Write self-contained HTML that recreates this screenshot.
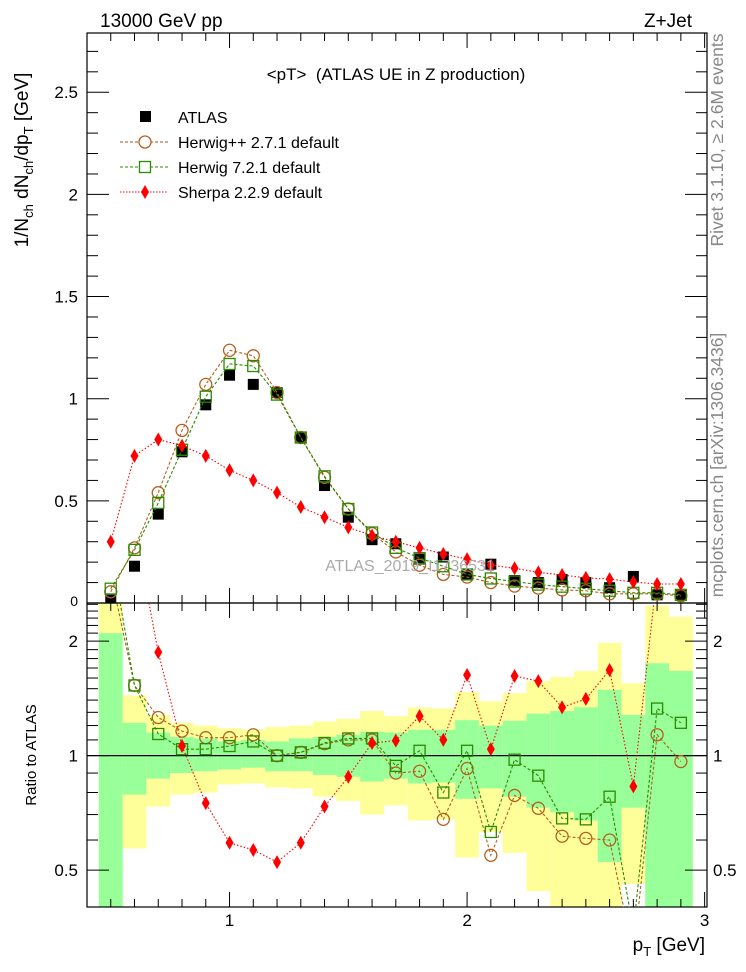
<!DOCTYPE html>
<html><head><meta charset="utf-8">
<style>
html,body{margin:0;padding:0;background:#fff;}
svg{display:block;font-family:"Liberation Sans",Arial,sans-serif;}
</style></head>
<body>
<svg id="chart" width="746" height="972" viewBox="0 0 746 972">
<rect x="0" y="0" width="746" height="972" fill="#fff"/>
<g id="bands"></g>
<g id="axes"></g>
<g id="series"></g>
<text x="100" y="27" font-size="19">13000 GeV pp</text>
<text x="692" y="27" font-size="19" text-anchor="end">Z+Jet</text>
<text x="396" y="80" font-size="17" text-anchor="middle" xml:space="preserve">&lt;pT&gt;  (ATLAS UE in Z production)</text>
<text x="410" y="571" font-size="16" fill="#aaa" text-anchor="middle">ATLAS_2019_I1736531</text>
<g>
  <g>
    <rect x="140" y="111" width="11" height="11" fill="#000"/>
    <text x="178" y="123" font-size="16">ATLAS</text>
  </g>
  <g>
    <line x1="120" y1="142" x2="168" y2="142" stroke="#a0522d" stroke-dasharray="3,2"/>
    <circle cx="145" cy="142" r="6" fill="#fff" stroke="#b4601f" stroke-width="1.3"/>
    <text x="178" y="148" font-size="16">Herwig++ 2.7.1 default</text>
  </g>
  <g>
    <line x1="120" y1="167" x2="168" y2="167" stroke="#2a8a00" stroke-dasharray="3,2"/>
    <rect x="139.5" y="161.5" width="11" height="11" fill="#fff" stroke="#2a8a00" stroke-width="1.3"/>
    <text x="178" y="173" font-size="16">Herwig 7.2.1 default</text>
  </g>
  <g>
    <line x1="120" y1="192" x2="168" y2="192" stroke="#f00" stroke-dasharray="1.5,1.5"/>
    <path d="M145 185 L149 192 L145 199 L141 192 Z" fill="#f00"/>
    <text x="178" y="198" font-size="16">Sherpa 2.2.9 default</text>
  </g>
</g>
<text transform="translate(28,160) rotate(-90)" font-size="19" text-anchor="middle">1/N<tspan font-size="13" dy="5">ch</tspan><tspan dy="-5"> dN</tspan><tspan font-size="13" dy="5">ch</tspan><tspan dy="-5">/dp</tspan><tspan font-size="13" dy="5">T</tspan><tspan dy="-5"> [GeV]</tspan></text>
<text transform="translate(36,755) rotate(-90)" font-size="15" text-anchor="middle">Ratio to ATLAS</text>
<text x="705" y="951" font-size="19" text-anchor="end">p<tspan font-size="13" dy="5">T</tspan><tspan dy="-5"> [GeV]</tspan></text>
<text transform="translate(723,140) rotate(-90)" font-size="17.5" fill="#888" text-anchor="middle">Rivet 3.1.10, ≥ 2.6M events</text>
<text transform="translate(723,465) rotate(-90)" font-size="17.5" fill="#888" text-anchor="middle">mcplots.cern.ch [arXiv:1306.3436]</text>
</svg>
<script>
const binCenters=[0.5,0.6,0.7,0.8,0.9,1.0,1.1,1.2,1.3,1.4,1.5,1.6,1.7,1.8,1.9,2.0,2.1,2.2,2.3,2.4,2.5,2.6,2.7,2.8,2.9];
const atlasValues=[0.02,0.18,0.435,0.74,0.97,1.115,1.07,1.03,0.81,0.575,0.42,0.31,0.29,0.215,0.225,0.137,0.19,0.11,0.10,0.115,0.10,0.075,0.13,0.04,0.04];
const herwigppValues=[0.055,0.27,0.54,0.845,1.07,1.237,1.21,1.03,0.81,0.615,0.46,0.34,0.25,0.185,0.14,0.127,0.10,0.083,0.073,0.064,0.06,0.045,0.045,0.045,0.035];
const herwig7Values=[0.07,0.26,0.49,0.75,1.01,1.17,1.16,1.02,0.81,0.62,0.46,0.345,0.27,0.22,0.18,0.14,0.12,0.105,0.09,0.08,0.07,0.06,0.05,0.05,0.04];
const sherpaValues=[0.30,0.72,0.80,0.77,0.72,0.65,0.60,0.54,0.47,0.42,0.37,0.33,0.30,0.27,0.24,0.215,0.185,0.17,0.15,0.137,0.123,0.117,0.103,0.093,0.093];
const herwigppRatio=[3.0,1.53,1.26,1.16,1.115,1.115,1.135,1.0,1.02,1.075,1.10,1.10,0.90,0.91,0.68,0.925,0.547,0.786,0.727,0.614,0.606,0.60,0.30,1.135,0.965];
const herwig7Ratio=[3.5,1.53,1.14,1.04,1.04,1.06,1.09,1.0,1.02,1.08,1.11,1.11,0.94,1.03,0.80,1.03,0.63,0.976,0.886,0.684,0.68,0.78,0.35,1.33,1.22];
const sherpaRatio=[15,4.0,1.87,1.06,0.75,0.59,0.565,0.525,0.59,0.735,0.88,1.08,1.095,1.27,1.10,1.63,1.04,1.62,1.57,1.34,1.41,1.68,0.83,3.0,3.0];
const yellowHigh=[3.0,1.44,1.28,1.22,1.2,1.18,1.17,1.19,1.2,1.23,1.25,1.31,1.27,1.34,1.33,1.47,1.39,1.46,1.57,1.61,1.67,1.98,1.55,2.48,2.32];
const greenHigh=[2.1,1.22,1.15,1.12,1.11,1.09,1.10,1.09,1.11,1.12,1.135,1.155,1.15,1.17,1.17,1.24,1.2,1.235,1.29,1.31,1.34,1.49,1.28,1.75,1.67];
const greenLow=[0.3,0.79,0.87,0.90,0.91,0.92,0.93,0.91,0.91,0.89,0.88,0.855,0.87,0.845,0.85,0.77,0.82,0.78,0.73,0.71,0.675,0.525,0.73,0.3,0.3];
const yellowLow=[0.3,0.57,0.735,0.79,0.80,0.84,0.845,0.825,0.82,0.78,0.76,0.70,0.74,0.675,0.68,0.54,0.63,0.555,0.44,0.3,0.3,0.3,0.46,0.3,0.3];
const mainYTicks=[0,0.5,1,1.5,2,2.5];
const mainYLabels=["0","0.5","1","1.5","2","2.5"];
const ratioYTicks=[0.5,1,2];
const ratioYLabels=["0.5","1","2"];
const xTicks=[1,2,3];
const xLabels=["1","2","3"];

const NS="http://www.w3.org/2000/svg";
const L=87,R=707,MT=33,MB=603,RT=603,RB=907;
const XMIN=0.4,XMAX=3.01;
const YMAX=2.79;
const RMIN=0.4,RMAX=2.52;
function X(v){return L+(v-XMIN)/(XMAX-XMIN)*(R-L);}
function Y(v){return MB-(v/YMAX)*(MB-MT);}
function RY(v){return RB-(Math.log(v)-Math.log(RMIN))/(Math.log(RMAX)-Math.log(RMIN))*(RB-RT);}
function mk(tag,attrs,parent){const e=document.createElementNS(NS,tag);for(const k in attrs)e.setAttribute(k,attrs[k]);parent.appendChild(e);return e;}
const gB=document.getElementById('bands'),gA=document.getElementById('axes'),gS=document.getElementById('series');

const clampR=v=>Math.min(Math.max(v,RMIN),RMAX);
binCenters.forEach((c,i)=>{
  const x0=X(c-0.05),x1=X(c+0.05);
  const y=mk('rect',{x:x0,y:RY(clampR(yellowHigh[i])),width:x1-x0,height:RY(clampR(yellowLow[i]))-RY(clampR(yellowHigh[i])),fill:'#ffff99'},gB);
  
  
  const g=mk('rect',{x:x0,y:RY(clampR(greenHigh[i])),width:x1-x0,height:RY(clampR(greenLow[i]))-RY(clampR(greenHigh[i])),fill:'#99ff99'},gB);
  
  
});

[[MT,MB],[RT,RB]].forEach(([t,b],pi)=>{
  const f=mk('rect',{x:L,y:t,width:R-L,height:b-t,fill:'none',stroke:'#000','stroke-width':1.2},gA);
  
  
  for(let k=4;k<=30;k++){
    const v=k/10;const major=(k%10===0);const len=major?15:8;
    mk('line',{x1:X(v),x2:X(v),y1:b,y2:b-len,stroke:'#000'},gA);
    mk('line',{x1:X(v),x2:X(v),y1:t,y2:t+len,stroke:'#000'},gA);
  }
});
for(let k=0;k<=27;k++){
  const v=k/10;const major=(k%5===0);const len=major?22:11;
  mk('line',{x1:L,x2:L+len,y1:Y(v),y2:Y(v),stroke:'#000'},gA);
  mk('line',{x1:R,x2:R-len,y1:Y(v),y2:Y(v),stroke:'#000'},gA);
}
mainYTicks.forEach((v,i)=>{
  const t=mk('text',{x:78,y:Y(v)+(v===0?3:6),'font-size':v===0?14:17,'text-anchor':'end'},gA);
  t.textContent=mainYLabels[i];
  
  
});
const rminor=[0.4,0.5,0.6,0.7,0.8,0.9,1,1.1,1.2,1.3,1.4,1.5,1.6,1.7,1.8,1.9,2,2.1,2.2,2.3,2.4,2.5];
rminor.forEach(v=>{
  const major=ratioYTicks.includes(v);const len=major?22:11;
  mk('line',{x1:L,x2:L+len,y1:RY(v),y2:RY(v),stroke:'#000'},gA);
  mk('line',{x1:R,x2:R-len,y1:RY(v),y2:RY(v),stroke:'#000'},gA);
});
ratioYTicks.forEach((v,i)=>{
  const t=mk('text',{x:78,y:RY(v)+6,'font-size':17,'text-anchor':'end'},gA);
  t.textContent=ratioYLabels[i];
  
  
  const t2=mk('text',{x:713,y:RY(v)+6,'font-size':17,'text-anchor':'start'},gA);
  t2.textContent=ratioYLabels[i];
  
  
});
xTicks.forEach((v,i)=>{
  const t=mk('text',{x:X(v),y:926,'font-size':17,'text-anchor':'middle'},gA);
  t.textContent=xLabels[i];
  
  
});
const one=mk('line',{x1:L,x2:R,y1:RY(1),y2:RY(1),stroke:'#000','stroke-width':1.2},gA);



const defs=mk('defs',{},gS);
const c1=mk('clipPath',{id:'clipMain'},defs);mk('rect',{x:L,y:MT,width:R-L,height:MB-MT},c1);
const c2=mk('clipPath',{id:'clipRatio'},defs);mk('rect',{x:L,y:RT,width:R-L,height:RB-RT},c2);

function drawSeries(vals,yf,clip,color,dash,marker,name){
  const g=mk('g',{'clip-path':'url(#'+clip+')'},gS);
  
  
  if(dash!==null){
    const pts=binCenters.map((c,i)=>X(c)+','+yf(vals[i])).join(' ');
    mk('polyline',{points:pts,fill:'none',stroke:color,'stroke-dasharray':dash,'stroke-width':1.1},g);
  }
  binCenters.forEach((c,i)=>{
    const x=X(c),y=yf(vals[i]);let m;
    if(marker==='sq') m=mk('rect',{x:x-5.5,y:y-5.5,width:11,height:11,fill:'#000'},g);
    else if(marker==='osq') m=mk('rect',{x:x-5.5,y:y-5.5,width:11,height:11,fill:'none',stroke:color,'stroke-width':1.3},g);
    else if(marker==='oc') m=mk('circle',{cx:x,cy:y,r:6,fill:'none',stroke:color,'stroke-width':1.3},g);
    else m=mk('path',{d:`M${x} ${y-7}L${x+4} ${y}L${x} ${y+7}L${x-4} ${y}Z`,fill:color},g);
    
    
  });
}
drawSeries(atlasValues,Y,'clipMain','#000',null,'sq','atlas-data');
drawSeries(herwigppValues,Y,'clipMain','#b4601f','3,2','oc','herwigpp-main');
drawSeries(herwig7Values,Y,'clipMain','#2a8a00','3,2','osq','herwig7-main');
drawSeries(sherpaValues,Y,'clipMain','#f00','1.5,2','dia','sherpa-main');
drawSeries(herwigppRatio,RY,'clipRatio','#b4601f','3,2','oc','herwigpp-ratio');
drawSeries(herwig7Ratio,RY,'clipRatio','#2a8a00','3,2','osq','herwig7-ratio');
drawSeries(sherpaRatio,RY,'clipRatio','#f00','1.5,2','dia','sherpa-ratio');
</script>
</body></html>
